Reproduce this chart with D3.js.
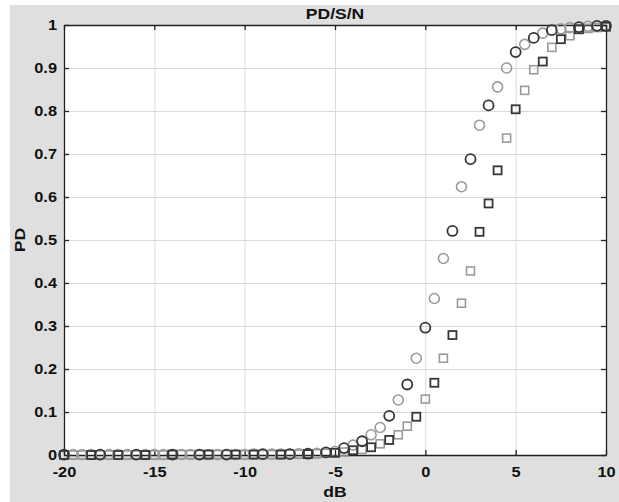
<!DOCTYPE html>
<html>
<head>
<meta charset="utf-8">
<script src="https://cdn.jsdelivr.net/npm/d3@7"></script>
<style>
  body { margin: 0; background: #fff; }
  text { font-family: "Liberation Sans", Arial, sans-serif; font-weight: bold; fill: #111; }
</style>
</head>
<body>
<svg id="chart" width="619" height="502"></svg>
<script>
// ---- data ----
const xTicks = [-20, -15, -10, -5, 0, 5, 10];
const yTicks = [0, 0.1, 0.2, 0.3, 0.4, 0.5, 0.6, 0.7, 0.8, 0.9, 1];

const darkCircleDb = [-20, -18, -16, -14, -12.5, -11, -9, -7.5, -6.5, -5.5, -4.5, -3.5, -2, -1, 0, 1.5, 2.5, 3.5, 5, 6, 7, 8.5, 9.5, 10];
const darkCirclePd = [0.001, 0.001, 0.001, 0.001, 0.001, 0.001, 0.002, 0.002, 0.003, 0.006, 0.016, 0.032, 0.091, 0.164, 0.296, 0.521, 0.688, 0.813, 0.937, 0.970, 0.988, 0.995, 0.998, 0.998];

const lightCircleDb = [-19.5, -19, -18.5, -17.5, -17, -16.5, -15.5, -15, -14.5, -13.5, -13, -12, -11.5, -10.5, -10, -9.5, -8.5, -8, -7, -6, -5, -4, -3, -2.5, -1.5, -0.5, 0.5, 1, 2, 3, 4, 4.5, 5.5, 6.5, 7.5, 8, 9];
const lightCirclePd = [0.001, 0.001, 0.001, 0.001, 0.001, 0.001, 0.001, 0.001, 0.001, 0.001, 0.001, 0.001, 0.001, 0.001, 0.001, 0.002, 0.002, 0.002, 0.003, 0.004, 0.008, 0.023, 0.047, 0.064, 0.128, 0.225, 0.364, 0.457, 0.624, 0.767, 0.856, 0.900, 0.955, 0.981, 0.991, 0.994, 0.997];

const darkSquareDb = [-20, -18.5, -17, -15.5, -14, -12, -10.5, -9.5, -8, -6.5, -5, -4, -3, -2, -0.5, 0.5, 1.5, 3, 3.5, 4, 5, 6.5, 7.5, 8.5, 10];
const darkSquarePd = [0, 0, 0, 0, 0.001, 0.001, 0.001, 0.001, 0.001, 0.002, 0.005, 0.011, 0.018, 0.035, 0.089, 0.168, 0.279, 0.519, 0.585, 0.662, 0.804, 0.915, 0.967, 0.990, 0.996];

const lightSquareDb = [-19.5, -19, -18, -17.5, -16.5, -16, -15, -14.5, -13.5, -13, -12.5, -11.5, -11, -10, -9, -8.5, -7.5, -7, -6, -5.5, -4.5, -3.5, -2.5, -1.5, -1, 0, 1, 2, 2.5, 4.5, 5.5, 6, 7, 8, 9, 9.5];
const lightSquarePd = [0, 0, 0, 0, 0, 0, 0, 0, 0.001, 0.001, 0.001, 0.001, 0.001, 0.001, 0.001, 0.001, 0.002, 0.002, 0.003, 0.004, 0.007, 0.013, 0.026, 0.047, 0.067, 0.130, 0.225, 0.353, 0.428, 0.737, 0.848, 0.896, 0.948, 0.975, 0.992, 0.994];

// ---- layout ----
const W = 619, H = 502;
const margin = {left: 64, top: 25, right: 13, bottom: 47};
const pw = W - margin.left - margin.right;
const ph = H - margin.top - margin.bottom;
const stretch = 1.17; // glyphs in the picture are a bit wider than the font

const svg = d3.select("#chart");

svg.append("rect")
    .attr("x", 10).attr("y", 5)
    .attr("width", W - 10).attr("height", H - 5)
    .attr("fill", "#dfdfdf");

const g = svg.append("g").attr("transform", `translate(${margin.left},${margin.top})`);

g.append("rect").attr("width", pw).attr("height", ph).attr("fill", "#fff");

const x = d3.scaleLinear().domain([-20, 10]).range([0, pw]);
const y = d3.scaleLinear().domain([0, 1]).range([ph, 0]);

// grid
g.append("g")
    .attr("transform", `translate(0,${ph})`)
    .call(d3.axisBottom(x).tickValues(xTicks).tickSize(-ph).tickFormat(""))
    .call(s => s.select(".domain").remove())
    .call(s => s.selectAll("line").attr("stroke", "#dadada").attr("stroke-width", 1));
g.append("g")
    .call(d3.axisLeft(y).tickValues(yTicks).tickSize(-pw).tickFormat(""))
    .call(s => s.select(".domain").remove())
    .call(s => s.selectAll("line").attr("stroke", "#dadada").attr("stroke-width", 1));

// axes (MATLAB style: box with inward ticks)
const axisStyle = s => {
    s.select(".domain").attr("stroke", "#222").attr("stroke-width", 1.3);
    s.selectAll(".tick line").attr("stroke", "#222").attr("stroke-width", 1.3);
    s.selectAll("text")
        .attr("font-size", 14)
        .attr("font-family", null)
        .attr("fill", "#111")
        .attr("transform", `scale(${stretch},1)`);
};

g.append("g")
    .attr("transform", `translate(0,${ph})`)
    .call(d3.axisBottom(x).tickValues(xTicks).tickSizeInner(-5).tickSizeOuter(0).tickPadding(12).tickFormat(d => String(d)))
    .call(axisStyle);
g.append("g")
    .call(d3.axisLeft(y).tickValues(yTicks).tickSizeInner(-5).tickSizeOuter(0).tickPadding(6).tickFormat(d => String(d)))
    .call(axisStyle);
g.append("g")
    .call(d3.axisTop(x).tickValues(xTicks).tickSizeInner(-5).tickSizeOuter(0).tickFormat(""))
    .call(axisStyle);
g.append("g")
    .attr("transform", `translate(${pw},0)`)
    .call(d3.axisRight(y).tickValues(yTicks).tickSizeInner(-5).tickSizeOuter(0).tickFormat(""))
    .call(axisStyle);

// markers
const zip = (xs, ys) => xs.map((v, i) => ({db: v, pd: ys[i]}));
const dark = "#363636", light = "#9a9a9a";

function circles(data, color, sw) {
    g.append("g").selectAll("circle")
        .data(data)
        .join("circle")
        .attr("cx", d => x(d.db))
        .attr("cy", d => y(d.pd))
        .attr("r", 5)
        .attr("fill", "none")
        .attr("stroke", color)
        .attr("stroke-width", sw);
}

function squares(data, color, sw) {
    const s = 8;
    g.append("g").selectAll("rect")
        .data(data)
        .join("rect")
        .attr("x", d => x(d.db) - s / 2)
        .attr("y", d => y(d.pd) - s / 2)
        .attr("width", s)
        .attr("height", s)
        .attr("fill", "none")
        .attr("stroke", color)
        .attr("stroke-width", sw);
}

squares(zip(lightSquareDb, lightSquarePd), light, 1.6);
circles(zip(lightCircleDb, lightCirclePd), light, 1.6);
squares(zip(darkSquareDb, darkSquarePd), dark, 1.8);
circles(zip(darkCircleDb, darkCirclePd), dark, 1.8);

// labels
svg.append("text")
    .attr("transform", `translate(${margin.left + pw / 2},19) scale(${stretch},1)`)
    .attr("text-anchor", "middle")
    .attr("font-size", 15)
    .text("PD/S/N");

svg.append("text")
    .attr("transform", `translate(${margin.left + pw / 2},497) scale(${stretch},1)`)
    .attr("text-anchor", "middle")
    .attr("font-size", 15)
    .text("dB");

svg.append("text")
    .attr("transform", `translate(25,${margin.top + ph / 2}) rotate(-90) scale(${stretch},1)`)
    .attr("text-anchor", "middle")
    .attr("font-size", 15)
    .text("PD");
</script>
</body>
</html>
